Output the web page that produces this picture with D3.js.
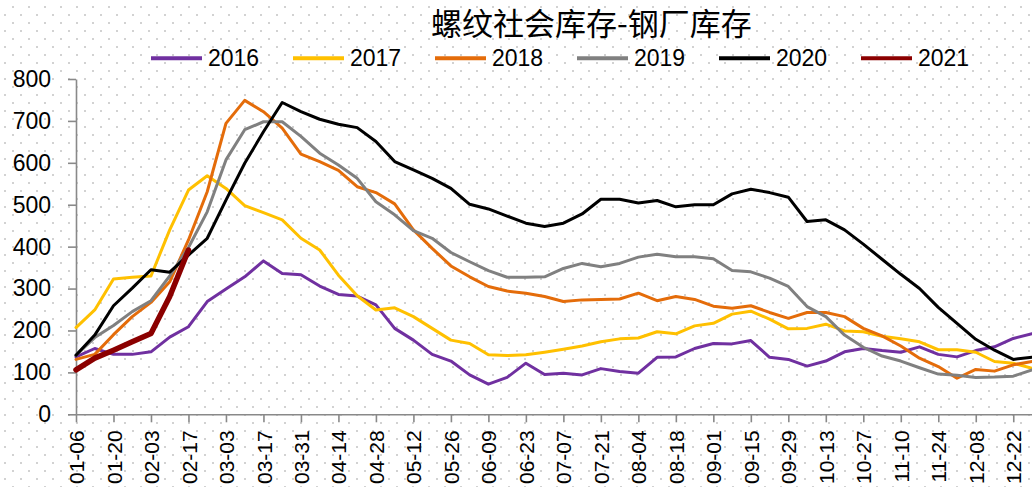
<!DOCTYPE html>
<html>
<head>
<meta charset="utf-8">
<script src="https://cdn.jsdelivr.net/npm/d3@7"></script>
<style>
  html, body { margin: 0; padding: 0; background: #fff; }
  svg { display: block; }
</style>
</head>
<body>
<svg id="chart" width="1032" height="487"></svg>
<script>
// ---- data ----
const title = "螺纹社会库存-钢厂库存";
const dates = ["01-06","01-13","01-20","01-27","02-03","02-10","02-17","02-24","03-03","03-10",
  "03-17","03-24","03-31","04-07","04-14","04-21","04-28","05-05","05-12","05-19",
  "05-26","06-02","06-09","06-16","06-23","06-30","07-07","07-14","07-21","07-28",
  "08-04","08-11","08-18","08-25","09-01","09-08","09-15","09-22","09-29","10-06",
  "10-13","10-20","10-27","11-03","11-10","11-17","11-24","12-01","12-08","12-15",
  "12-22","12-29"];
const tickLabels = dates.filter((d, i) => i % 2 === 0);
const yTicks = [0,100,200,300,400,500,600,700,800];
const seriesNames = ["2016","2017","2018","2019","2020","2021"];
const s2016 = [137,157,143,143,149,184,209,269,299,328,366,336,333,306,286,282,261,205,177,143,
  127,94,72,88,122,95,98,94,109,102,98,136,137,157,169,168,176,136,131,115,
  127,149,157,152,148,161,143,137,152,161,181,192];
const s2017 = [207,249,323,327,330,440,535,569,539,498,481,464,420,392,332,283,249,254,233,205,
  177,169,142,140,142,148,155,163,173,180,182,197,192,211,217,239,246,227,204,205,
  215,199,197,186,180,173,154,154,148,126,122,110];
const s2018 = [131,143,190,233,267,316,416,531,694,749,722,683,621,603,582,543,529,502,440,396,
  354,328,305,294,289,281,269,273,274,275,289,271,281,274,258,253,259,243,229,243,
  243,233,205,187,163,134,114,86,107,103,118,126];
const s2019 = [141,183,212,245,271,330,398,483,607,679,698,698,663,623,595,563,507,476,438,420,
  386,364,343,327,327,328,348,360,352,360,375,382,376,376,371,343,340,325,305,257,
  233,189,160,139,127,111,96,93,88,89,91,106];
const s2020 = [141,189,259,301,345,339,380,420,511,599,674,744,722,704,692,684,651,603,583,563,
  539,501,490,473,456,448,456,478,513,513,504,510,495,500,500,526,537,529,518,460,
  464,440,406,370,334,300,255,217,179,153,131,136];
const s2021 = [106,134,153,173,193,281,392];
const seriesValues = [s2016, s2017, s2018, s2019, s2020, s2021];
const colors = ["#7030A0","#FFC000","#E46C0A","#808080","#000000","#8B0000"];
const widths = [3,3,3,3,3,5.5];

// ---- layout ----
const svg = d3.select("#chart");
const W = 1032, H = 487;
const plotLeft = 76, plotRight = 1032, plotTop = 79, plotBottom = 414.3;

// dotted background
const defs = svg.append("defs");
const pat = defs.append("pattern").attr("id","dots").attr("patternUnits","userSpaceOnUse")
  .attr("x", 12).attr("y", 6).attr("width", 16).attr("height", 16);
pat.append("rect").attr("x",0).attr("y",0).attr("width",2).attr("height",2).attr("fill","#d2d2d2");
pat.append("rect").attr("x",8).attr("y",8).attr("width",2).attr("height",2).attr("fill","#d2d2d2");
svg.append("rect").attr("width",W).attr("height",H).attr("fill","#fff");
svg.append("rect").attr("width",W).attr("height",H).attr("fill","url(#dots)");

const x = d3.scalePoint().domain(dates).range([plotLeft, plotRight]).padding(0);
const y = d3.scaleLinear().domain([0, 800]).range([plotBottom, plotTop]);

// title
svg.append("text").attr("x", 591.5).attr("y", 35)
  .attr("text-anchor","middle")
  .style("font-family","'Noto Sans CJK SC', sans-serif")
  .style("font-size","31px").style("fill","#000")
  .text(title);

// legend
const legendX0 = 151, legendStep = 142;
seriesNames.forEach((name, i) => {
  const lx = legendX0 + i * legendStep;
  svg.append("line").attr("x1", lx).attr("x2", lx + 51).attr("y1", 58.3).attr("y2", 58.3)
    .attr("stroke", colors[i]).attr("stroke-width", 4);
  svg.append("text").attr("x", lx + 57).attr("y", 65.8)
    .style("font-family","'Liberation Sans', Arial, sans-serif")
    .style("font-size","23px").style("fill","#000")
    .text(name);
});

// axes
const axisColor = "#898989";
const yAxis = svg.append("g").attr("transform", `translate(${plotLeft},0)`)
  .call(d3.axisLeft(y).tickValues(yTicks).tickSize(8).tickSizeOuter(0).tickPadding(17));
yAxis.select(".domain").attr("stroke", axisColor).attr("stroke-width", 1.6);
yAxis.selectAll(".tick line").attr("stroke", axisColor).attr("stroke-width", 1.6);
yAxis.selectAll(".tick text")
  .style("font-family","'Liberation Sans', Arial, sans-serif")
  .style("font-size","23px").style("fill","#000");

const xAxis = svg.append("g").attr("transform", `translate(0,${plotBottom})`)
  .call(d3.axisBottom(x).tickValues(tickLabels).tickSize(8).tickSizeOuter(0));
xAxis.select(".domain").attr("stroke", axisColor).attr("stroke-width", 1.6);
xAxis.selectAll(".tick line").attr("stroke", axisColor).attr("stroke-width", 1.6);
xAxis.selectAll(".tick text")
  .attr("transform","rotate(-90)")
  .attr("x", -16).attr("y", 0).attr("dy", "0.36em")
  .attr("text-anchor","end")
  .style("font-family","'Liberation Sans', Arial, sans-serif")
  .style("font-size","21px").style("fill","#000");

// lines
const line = d3.line().x((d, i) => x(dates[i])).y(d => y(d));
seriesValues.forEach((vals, i) => {
  svg.append("path").datum(vals)
    .attr("d", line)
    .attr("fill","none")
    .attr("stroke", colors[i])
    .attr("stroke-width", widths[i])
    .attr("stroke-linejoin","round")
    .attr("stroke-linecap","round");
});
</script>
</body>
</html>
